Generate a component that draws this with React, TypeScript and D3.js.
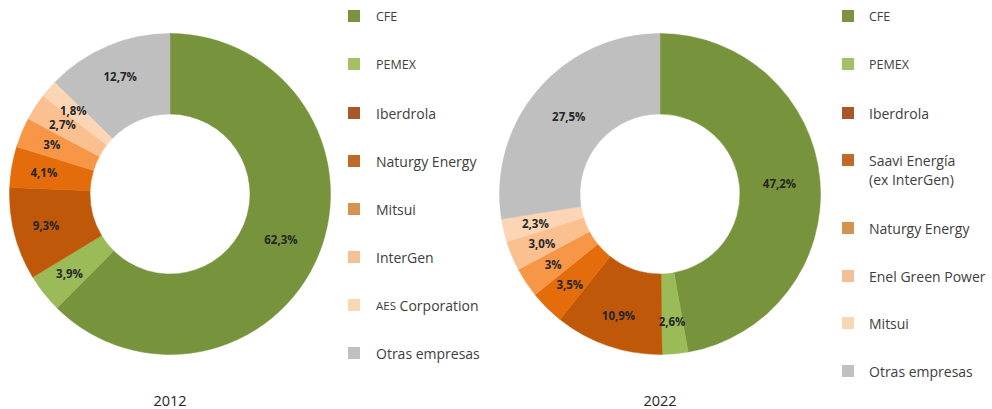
import React from "react";
import * as d3 from "d3";

const names2012 = ["CFE", "PEMEX", "Iberdrola", "Naturgy Energy", "Mitsui", "InterGen", "AES Corporation", "Otras empresas"];
const values2012 = [62.3, 3.9, 9.3, 4.1, 3, 2.7, 1.8, 12.7];
const labels2012 = ["62,3%", "3,9%", "9,3%", "4,1%", "3%", "2,7%", "1,8%", "12,7%"];

const names2022 = ["CFE", "PEMEX", "Iberdrola", "Saavi Energía|(ex InterGen)", "Naturgy Energy", "Enel Green Power", "Mitsui", "Otras empresas"];
const values2022 = [47.2, 2.6, 10.9, 3.5, 3, 3.0, 2.3, 27.5];
const labels2022 = ["47,2%", "2,6%", "10,9%", "3,5%", "3%", "3,0%", "2,3%", "27,5%"];

const years = ["2012", "2022"];

const sliceColors = ["#77933C", "#9BBB59", "#C0580A", "#E46C0A", "#F79646", "#FAC090", "#FCD5B5", "#BFBFBF"];
const legendColors = ["#7B9340", "#A4BF64", "#A8562A", "#BF6A28", "#D6924F", "#F4C197", "#F6D8B5", "#C0C0C0"];

const W = 992;
const H = 409;

function Donut({ cx, cy, values, labels }: { cx: number; cy: number; values: number[]; labels: string[] }) {
  const outer = 160.5;
  const inner = 80;
  const pie = d3.pie<number>().sort(null).value((d) => d);
  const arcs = pie(values);
  const arc = d3.arc<d3.PieArcDatum<number>>().innerRadius(inner).outerRadius(outer);
  const total = d3.sum(values);
  return (
    <g transform={`translate(${cx},${cy})`}>
      {arcs.map((a, i) => (
        <path key={i} d={arc(a) || ""} fill={sliceColors[i]} stroke={sliceColors[i]} strokeWidth={0.5} />
      ))}
      {arcs.map((a, i) => {
        const mid = (a.startAngle + a.endAngle) / 2;
        const share = a.value / total;
        const r = share < 0.15 ? 128 : 120;
        const x = r * Math.sin(mid);
        const y = -r * Math.cos(mid);
        return (
          <text
            key={"l" + i}
            x={x}
            y={y}
            textAnchor="middle"
            dominantBaseline="central"
            fontFamily="'Open Sans', sans-serif"
            fontWeight={700}
            fontSize={11.5}
            fill="#262626"
          >
            {labels[i]}
          </text>
        );
      })}
    </g>
  );
}

function Legend({ x, textX, names, ys }: { x: number; textX: number; names: string[]; ys: number[] }) {
  return (
    <g>
      {names.map((n, i) => {
        const lines = n.split("|");
        const small = n === "CFE" || n === "PEMEX";
        return (
          <g key={i}>
            <rect x={x} y={ys[i] - 6} width={12} height={12} fill={legendColors[i]} />
            {lines.map((ln, j) => (
              <text
                key={j}
                x={textX}
                y={ys[i] + j * 19}
                dominantBaseline="central"
                fontFamily="'Open Sans', sans-serif"
                fontSize={small ? 12.5 : 14}
                fill="#404040"
              >
                {ln.startsWith("AES ") ? (
                  <>
                    <tspan fontSize={11.5}>AES</tspan>
                    <tspan>{ln.slice(3)}</tspan>
                  </>
                ) : (
                  ln
                )}
              </text>
            ))}
          </g>
        );
      })}
    </g>
  );
}

export default function App() {
  const ys2012 = [16, 64, 113, 161, 209, 257, 305, 353];
  const ys2022 = [16, 64, 113, 160, 228, 276, 323, 371];
  return (
    <svg width={W} height={H} style={{ position: "absolute", left: 0, top: 0, background: "#fff" }}>
      <Donut cx={170} cy={194} values={values2012} labels={labels2012} />
      <Donut cx={660} cy={194} values={values2022} labels={labels2022} />
      <Legend x={348} textX={376} names={names2012} ys={ys2012} />
      <Legend x={842} textX={869} names={names2022} ys={ys2022} />
      <text x={170} y={406} textAnchor="middle" fontFamily="'Open Sans', sans-serif" fontSize={14.5} fill="#262626">
        {years[0]}
      </text>
      <text x={660} y={406} textAnchor="middle" fontFamily="'Open Sans', sans-serif" fontSize={14.5} fill="#262626">
        {years[1]}
      </text>
    </svg>
  );
}
